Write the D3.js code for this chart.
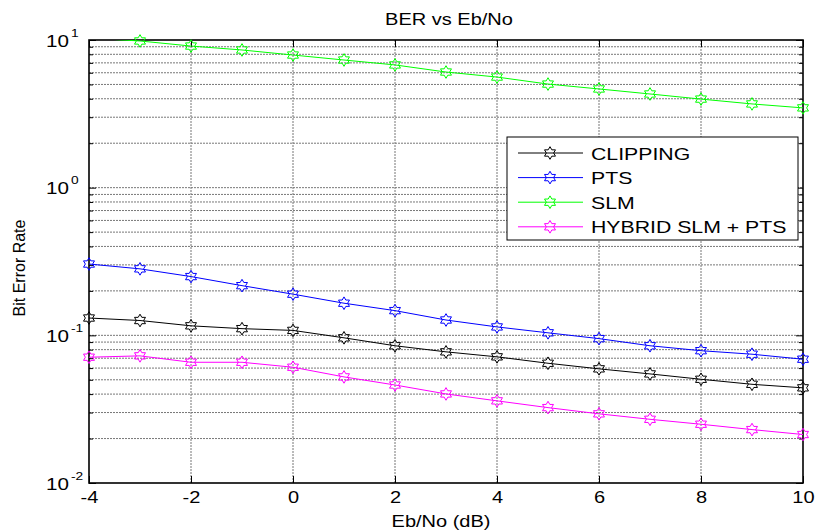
<!DOCTYPE html>
<html lang="en">
<head>
<meta charset="utf-8">
<title>BER vs Eb/No</title>
<script src="https://cdn.jsdelivr.net/npm/d3@7"></script>
<style>
	body { margin: 0; overflow: hidden; background: #fff; }
	text { font-family: "Liberation Sans", Arial, sans-serif; fill: #000; }
	.grid line { stroke: #777; stroke-width: 1; stroke-dasharray: 2,1; }
	.axis path { display: none; }
	.axis line { stroke: #000; stroke-width: 1; }
	.series { fill: none; stroke-width: 1; }
</style>
</head>
<body>
<script>
// data
const ebno = [-4, -3, -2, -1, 0, 1, 2, 3, 4, 5, 6, 7, 8, 9, 10];
const clipping = [0.131, 0.126, 0.116, 0.111, 0.108, 0.0962, 0.085, 0.0773, 0.0715, 0.0647, 0.0593, 0.0548, 0.0504, 0.0466, 0.0441];
const pts = [0.304, 0.282, 0.250, 0.217, 0.190, 0.165, 0.147, 0.127, 0.114, 0.104, 0.095, 0.085, 0.0787, 0.0745, 0.0689];
const slm = [10.3, 9.85, 9.1, 8.56, 7.91, 7.32, 6.78, 6.07, 5.61, 5.03, 4.66, 4.31, 3.98, 3.69, 3.47];
const hybrid = [0.0711, 0.0726, 0.0657, 0.0657, 0.0608, 0.0523, 0.0461, 0.0401, 0.0360, 0.0324, 0.0294, 0.0270, 0.0250, 0.0230, 0.0213];

const seriesNames = ['CLIPPING', 'PTS', 'SLM', 'HYBRID SLM + PTS'];
const seriesColors = ['#000000', '#0000ff', '#00ff00', '#ff00ff'];
const seriesValues = [clipping, pts, slm, hybrid];

const xTicks = [-4, -2, 0, 2, 4, 6, 8, 10];
const yMajor = [0.01, 0.1, 1, 10];

const width = 815, height = 530;
const pLeft = 89, pRight = 803, pTop = 40, pBottom = 483;
const sx = 1.25; // the picture is stretched sideways

const x = d3.scaleLinear().domain([-4, 10]).range([pLeft, pRight]);
const y = d3.scaleLog().domain([0.01, 10]).range([pBottom, pTop]);

// minor log ticks 2..9 in each decade
const yMinor = [];
[0.01, 0.1, 1].forEach(d => { for (let k = 2; k <= 9; k++) yMinor.push(+(d * k).toPrecision(3)); });

const svg = d3.select('body').append('svg')
	.attr('width', width)
	.attr('height', height);

svg.append('rect').attr('width', width).attr('height', height).attr('fill', '#fff');

// grid
const grid = svg.append('g').attr('class', 'grid');
grid.selectAll('line.v').data(xTicks.slice(1, -1)).enter().append('line')
	.attr('class', 'v')
	.attr('x1', d => x(d)).attr('x2', d => x(d))
	.attr('y1', pTop).attr('y2', pBottom);
grid.selectAll('line.h').data(yMinor.concat([0.1, 1])).enter().append('line')
	.attr('class', 'h')
	.attr('x1', pLeft).attr('x2', pRight)
	.attr('y1', d => y(d)).attr('y2', d => y(d));

// axes, ticks pointing inward like matlab
const xAxisG = svg.append('g').attr('class', 'axis')
	.attr('transform', `translate(0,${pBottom})`)
	.call(d3.axisBottom(x).tickValues(xTicks).tickSizeInner(-7).tickSizeOuter(0).tickPadding(9)
		.tickFormat(d => String(d)));
xAxisG.selectAll('text')
	.style('font-size', '16px')
	.attr('transform', `scale(${sx},1)`);

svg.append('g').attr('class', 'axis')
	.attr('transform', `translate(0,${pTop})`)
	.call(d3.axisTop(x).tickValues(xTicks).tickSizeInner(-7).tickSizeOuter(0).tickFormat(''));

const yAxisG = svg.append('g').attr('class', 'axis')
	.attr('transform', `translate(${pLeft},0)`)
	.call(d3.axisLeft(y).tickValues(yMajor).tickSizeInner(-7).tickSizeOuter(0).tickFormat(''));
svg.append('g').attr('class', 'axis')
	.attr('transform', `translate(${pLeft},0)`)
	.call(d3.axisLeft(y).tickValues(yMinor).tickSizeInner(-4).tickSizeOuter(0).tickFormat(''));
svg.append('g').attr('class', 'axis')
	.attr('transform', `translate(${pRight},0)`)
	.call(d3.axisRight(y).tickValues(yMajor).tickSizeInner(-7).tickSizeOuter(0).tickFormat(''));
svg.append('g').attr('class', 'axis')
	.attr('transform', `translate(${pRight},0)`)
	.call(d3.axisRight(y).tickValues(yMinor).tickSizeInner(-4).tickSizeOuter(0).tickFormat(''));

// y tick labels as 10 with a superscript exponent
yAxisG.selectAll('.tick').each(function(d) {
	const t = d3.select(this);
	const p = Math.round(Math.log10(d));
	t.append('text')
		.attr('text-anchor', 'end')
		.attr('transform', `translate(-20,6) scale(${sx},1)`)
		.style('font-size', '16.5px')
		.text('10');
	t.append('text')
		.attr('text-anchor', 'start')
		.attr('transform', `translate(-18,-4) scale(${sx},1)`)
		.style('font-size', '11px')
		.text(String(p));
});

// box
svg.append('rect')
	.attr('x', pLeft).attr('y', pTop)
	.attr('width', pRight - pLeft).attr('height', pBottom - pTop)
	.attr('fill', 'none').attr('stroke', '#000').attr('stroke-width', 1.6);

// six pointed star marker
const hexagram = {
	draw(ctx, size) {
		const r = Math.sqrt(size), ri = r / Math.sqrt(3);
		for (let i = 0; i < 12; i++) {
			const a = -Math.PI / 2 + i * Math.PI / 6;
			const rr = i % 2 ? ri : r;
			if (i === 0) ctx.moveTo(rr * Math.cos(a), rr * Math.sin(a));
			else ctx.lineTo(rr * Math.cos(a), rr * Math.sin(a));
		}
		ctx.closePath();
	}
};
const marker = d3.symbol().type(hexagram).size(40);

svg.append('clipPath').attr('id', 'plot-clip')
	.append('rect').attr('x', pLeft).attr('y', pTop).attr('width', pRight - pLeft).attr('height', pBottom - pTop);

const line = d3.line()
	.x(d => x(d[0]))
	.y(d => y(d[1]));

seriesValues.forEach((vals, i) => {
	const pts2 = ebno.map((e, j) => [e, vals[j]]);
	svg.append('path')
		.attr('class', 'series')
		.attr('clip-path', 'url(#plot-clip)')
		.attr('stroke', seriesColors[i])
		.attr('d', line(pts2));
	svg.append('g').selectAll('path')
		.data(pts2.filter(p => p[1] <= 10 && p[1] >= 0.01))
		.enter().append('path')
		.attr('transform', p => `translate(${x(p[0])},${y(p[1])})`)
		.attr('d', marker)
		.attr('fill', 'none')
		.attr('stroke', seriesColors[i])
		.attr('stroke-width', 1);
});

// title and axis labels
svg.append('text')
	.attr('text-anchor', 'middle')
	.attr('transform', `translate(449,25) scale(${sx},1)`)
	.style('font-size', '16px')
	.text('BER vs Eb/No');

svg.append('text')
	.attr('text-anchor', 'middle')
	.attr('transform', `translate(441,527) scale(${sx},1)`)
	.style('font-size', '16px')
	.text('Eb/No (dB)');

svg.append('text')
	.attr('text-anchor', 'middle')
	.attr('transform', 'translate(25,268) rotate(-90)')
	.style('font-size', '16px')
	.text('Bit Error Rate');

// legend
const legend = svg.append('g');
legend.append('rect')
	.attr('x', 507).attr('y', 137).attr('width', 291).attr('height', 103)
	.attr('fill', '#fff').attr('stroke', '#000').attr('stroke-width', 1);

seriesNames.forEach((name, i) => {
	const ly = 153 + i * 24.6;
	legend.append('line')
		.attr('x1', 518).attr('x2', 583).attr('y1', ly).attr('y2', ly)
		.attr('stroke', seriesColors[i]).attr('stroke-width', 1);
	legend.append('path')
		.attr('transform', `translate(550,${ly})`)
		.attr('d', marker)
		.attr('fill', 'none').attr('stroke', seriesColors[i]);
	legend.append('text')
		.attr('transform', `translate(591,${ly + 6.5}) scale(${sx},1)`)
		.style('font-size', '17px')
		.text(name);
});
</script>
</body>
</html>
